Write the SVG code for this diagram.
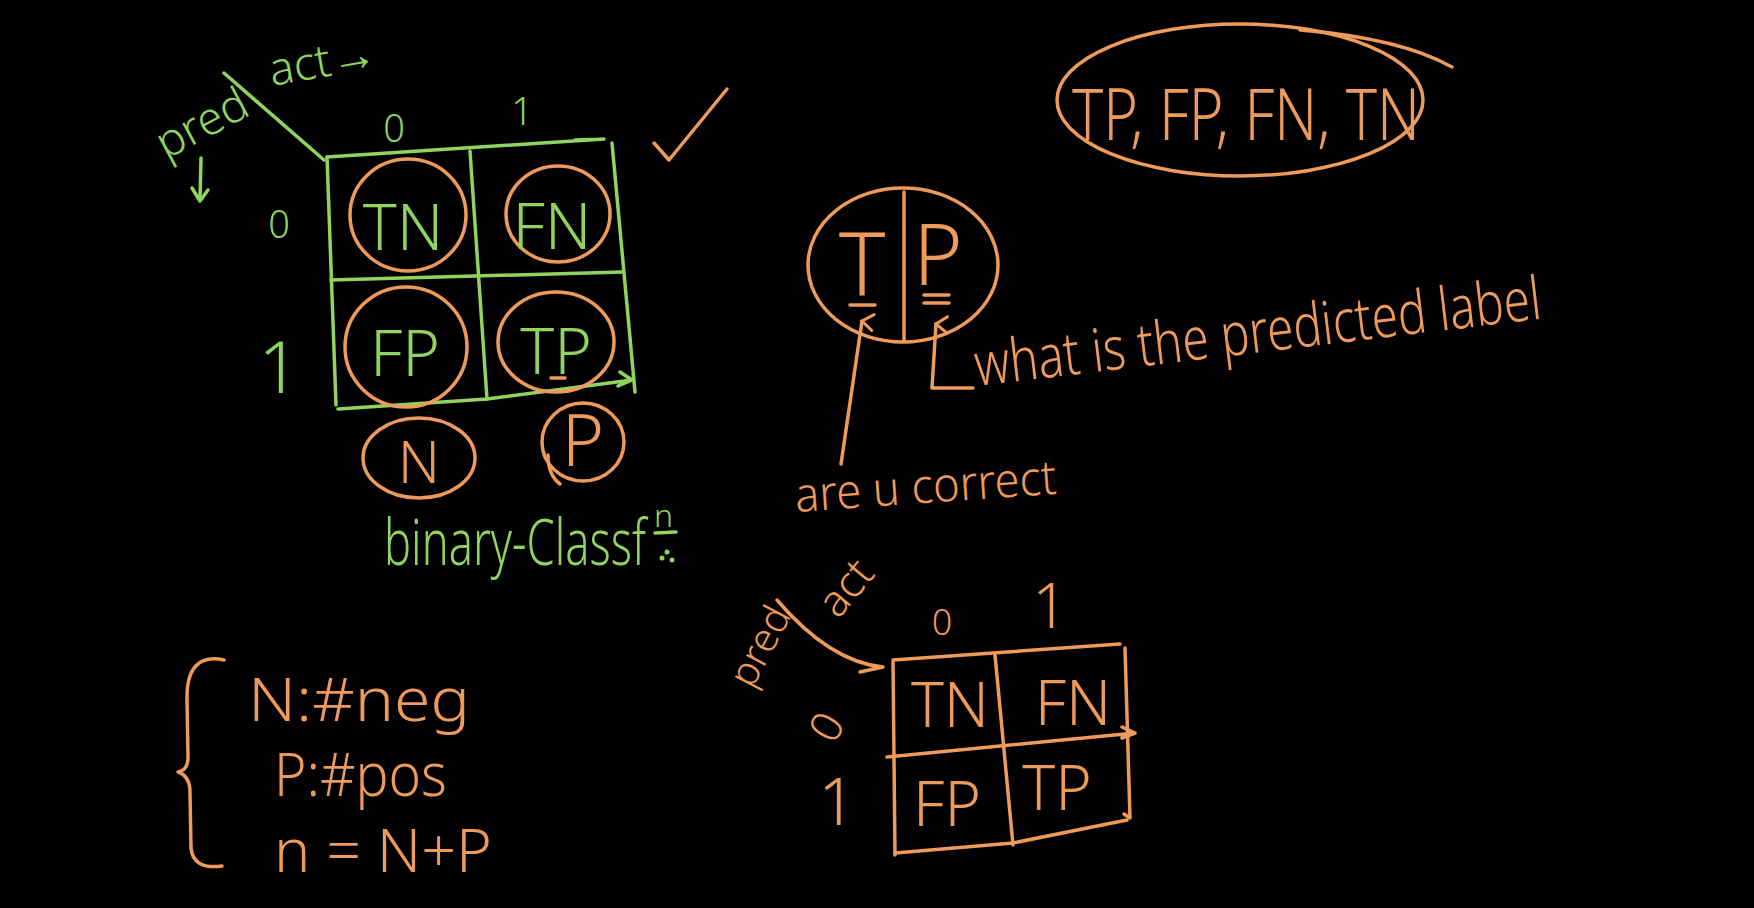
<svg xmlns="http://www.w3.org/2000/svg" width="1754" height="908" viewBox="0 0 1754 908">
<style>
text{font-family:"Noto Sans","Liberation Sans",sans-serif;font-weight:300}
.g{fill:#90d35e}
.o{fill:#ee9a5a}
.gs{fill:none;stroke:#90d35e;stroke-width:3.5;stroke-linecap:round;stroke-linejoin:round}
.os{fill:none;stroke:#ee9a5a;stroke-width:3.5;stroke-linecap:round;stroke-linejoin:round}
.m{text-anchor:middle}
</style>
<defs>
<marker id="ah" viewBox="0 0 20 20" refX="10" refY="3" markerWidth="20" markerHeight="20" markerUnits="userSpaceOnUse" orient="auto-start-reverse">
<path d="M2 14 L10 3 L18 14" fill="none" stroke="#ee9a5a" stroke-width="3" stroke-linecap="round"/>
</marker>
</defs>
<rect width="1754" height="908" fill="#000"/>

<g id="green-matrix">
<path class="gs" d="M327 157 L604 139 M575 140 L604 139"/>
<path class="gs" d="M327 157 L336 405"/>
<path class="gs" d="M612 143 L635 392"/>
<path class="gs" d="M470 151 L487 399"/>
<path class="gs" d="M331 280 L622 272"/>
<path class="gs" d="M338 409 L487 399 L632 380 M620 372 L632 380 L618 386"/>
<path class="gs" d="M224 73 L324 160"/>
<text class="g" x="272" y="86" font-size="46" transform="rotate(-10 272 86)">act→</text>
<text class="g" x="166" y="160" font-size="46" transform="rotate(-28 166 160)">pred</text>
<path class="gs" d="M201 158 L200 200 M192 188 L200 201 L208 190"/>
<text class="g m" x="394" y="142" font-size="38">0</text>
<text class="g m" x="522" y="125" font-size="38">1</text>
<text class="g m" x="279" y="238" font-size="38">0</text>
<text class="g m" x="279" y="393" font-size="72">1</text>
</g>

<g id="cell-TN">
<ellipse class="os" cx="408" cy="215" rx="58" ry="56"/>
<text class="g m" x="403" y="250" font-size="64">TN</text>
</g>
<g id="cell-FN">
<ellipse class="os" cx="558" cy="214" rx="52" ry="48"/>
<text class="g m" x="552" y="249" font-size="64">FN</text>
</g>
<g id="cell-FP">
<ellipse class="os" cx="406" cy="347" rx="61" ry="60"/>
<text class="g m" x="405" y="376" font-size="64">FP</text>
</g>
<g id="cell-TP">
<ellipse class="os" cx="556" cy="342" rx="58" ry="50"/>
<text class="g m" x="556" y="374" font-size="64">TP</text>
<path class="os" d="M551 378 L565 378"/>
</g>
<g id="node-N">
<ellipse class="os" cx="419" cy="458" rx="56" ry="40"/>
<text class="o m" x="419" y="483" font-size="58">N</text>
</g>
<g id="node-P">
<ellipse class="os" cx="583" cy="442" rx="41" ry="39"/>
<path class="os" d="M548 455 Q548 475 560 484"/>
<text class="o m" x="583" y="466" font-size="72">P</text>
</g>
<g id="binary">
<text class="g" x="384" y="565" font-size="64" textLength="262" lengthAdjust="spacingAndGlyphs">binary-Classf</text>
<text class="g" x="654" y="527" font-size="32">n</text>
<path class="gs" d="M655 533 L676 532"/>
<circle cx="662" cy="558" r="2.5" fill="#90d35e"/>
<circle cx="672" cy="560" r="2.5" fill="#90d35e"/>
<circle cx="667" cy="552" r="2.5" fill="#90d35e"/>
</g>
<g id="check">
<path class="os" d="M654 143 L669 160 L727 89"/>
</g>

<g id="summary">
<ellipse class="os" cx="1240" cy="100" rx="183" ry="76"/>
<path class="os" d="M1300 30 Q1400 38 1452 67"/>
<text class="o" x="1072" y="140" font-size="72" textLength="348" lengthAdjust="spacingAndGlyphs">TP, FP, FN, TN</text>
</g>

<g id="TP-split">
<ellipse class="os" cx="903" cy="265" rx="95" ry="77"/>
<path class="os" d="M904 192 L904 341"/>
<text class="o m" x="862" y="296" font-size="88">T</text>
<path class="os" d="M850 305 L875 305"/>
<text class="o m" x="938" y="285" font-size="84">P</text>
<path class="os" d="M924 295 L949 295 M924 303 L949 303"/>
</g>
<g id="label-predicted">
<text class="o" x="977" y="386" font-size="60" textLength="570" lengthAdjust="spacingAndGlyphs" transform="rotate(-6.8 977 386)">what is the predicted label</text>
</g>
<g id="label-correct">
<text class="o" x="796" y="512" font-size="48" textLength="262" lengthAdjust="spacingAndGlyphs" transform="rotate(-4 796 512)">are u correct</text>
</g>

<g id="counts">
<path class="os" d="M224 660 Q186 652 187 700 L188 758 Q188 770 178 772 Q190 776 190 792 L191 848 Q193 870 222 866"/>
<text class="o" x="248" y="721" font-size="60" textLength="222" lengthAdjust="spacingAndGlyphs">N:#neg</text>
<text class="o" x="274" y="796" font-size="60" textLength="173" lengthAdjust="spacingAndGlyphs">P:#pos</text>
<text class="o" x="274" y="872" font-size="60" textLength="218" lengthAdjust="spacingAndGlyphs">n = N+P</text>
</g>

<g id="orange-matrix">
<path class="os" d="M893 660 L1120 644"/>
<path class="os" d="M893 662 L895 855"/>
<path class="os" d="M1125 648 L1130 818 L1124 814"/>
<path class="os" d="M995 655 L1013 845"/>
<path class="os" d="M887 757 L1135 733 M1122 727 L1135 733 L1122 738"/>
<path class="os" d="M895 853 L1013 843 L1127 820"/>
<path class="os" d="M777 600 Q830 662 883 667 L860 672"/>
<text class="o" x="838" y="620" font-size="44" transform="rotate(-50 838 620)">act</text>
<text class="o" x="752" y="690" font-size="40" transform="rotate(-62 752 690)">pred</text>
<text class="o m" x="942" y="635" font-size="36">0</text>
<text class="o m" x="1050" y="628" font-size="62">1</text>
<text class="o m" x="827" y="742" font-size="44" transform="rotate(-60 827 727)">0</text>
<text class="o m" x="837" y="825" font-size="66">1</text>
<text class="o m" x="950" y="727" font-size="62">TN</text>
<text class="o m" x="1073" y="725" font-size="62">FN</text>
<text class="o m" x="947" y="826" font-size="62">FP</text>
<text class="o m" x="1057" y="810" font-size="62">TP</text>
</g>

<g id="connectors">
<path class="os" d="M841 464 L862 321" marker-end="url(#ah)"/>
<path class="os" d="M973 388 L932 388 L936 324" marker-end="url(#ah)"/>
</g>
</svg>
